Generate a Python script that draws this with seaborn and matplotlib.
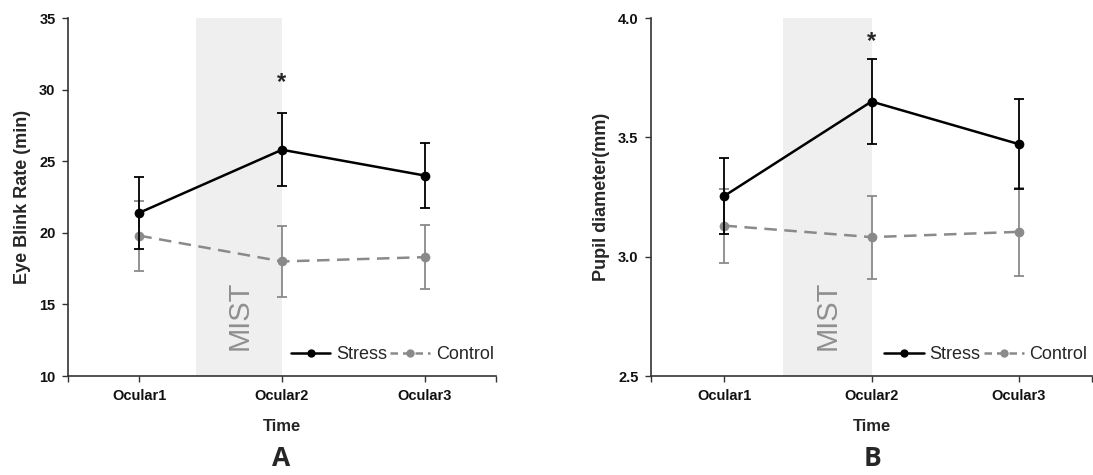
import matplotlib
matplotlib.use("Agg")
import matplotlib.pyplot as plt
import matplotlib.ticker as mticker
import seaborn as sns
import pandas as pd
from matplotlib.lines import Line2D

# --- data ---
times = ["Ocular1", "Ocular2", "Ocular3"]

blink_stress = [21.4, 25.8, 24.0]
blink_stress_err = [2.5, 2.55, 2.3]
blink_control = [19.8, 18.0, 18.3]
blink_control_err = [2.45, 2.5, 2.25]

pupil_stress = [3.255, 3.65, 3.472]
pupil_stress_err = [0.158, 0.177, 0.19]
pupil_control = [3.13, 3.082, 3.104]
pupil_control_err = [0.155, 0.174, 0.185]

sns.set_style("ticks")
plt.rcParams["font.family"] = ["Liberation Sans", "DejaVu Sans"]

BLACK = "#000000"
GREY = "#8a8a8a"
SHADE = "#efefef"
AXIS = "#333333"


def draw_panel(ax, stress, stress_err, control, control_err, ylim, yticks,
               ylabel, star_y, leg_x, yfmt=None):
    df = pd.DataFrame({
        "Time": times * 2,
        "value": list(stress) + list(control),
        "group": ["Stress"] * 3 + ["Control"] * 3,
    })
    ax.axvspan(0.4, 1.0, color=SHADE, zorder=0, lw=0)
    sns.lineplot(data=df, x="Time", y="value", hue="group", style="group",
                 palette={"Stress": BLACK, "Control": GREY},
                 dashes={"Stress": "", "Control": (5, 3)},
                 markers={"Stress": "o", "Control": "o"},
                 markersize=7, markeredgewidth=0, linewidth=1.8,
                 legend=False, ax=ax, zorder=3)
    ax.errorbar(times, control, yerr=control_err, fmt="none", ecolor=GREY,
                elinewidth=1.3, capsize=3.5, capthick=1.3, zorder=2)
    ax.errorbar(times, stress, yerr=stress_err, fmt="none", ecolor=BLACK,
                elinewidth=1.3, capsize=3.5, capthick=1.3, zorder=4)

    ax.set_xlim(-0.5, 2.5)
    ax.set_ylim(*ylim)
    ax.set_yticks(yticks)
    if yfmt:
        ax.yaxis.set_major_formatter(mticker.FormatStrFormatter(yfmt))
    ax.set_xticks([-0.5, 2.5], minor=True)
    ax.tick_params(which="both", direction="out", length=4.5, width=1,
                   color=AXIS, pad=4.5, labelsize=10.5, labelcolor="#111111")
    for lab in ax.get_xticklabels() + ax.get_yticklabels():
        lab.set_fontweight("bold")
    ax.set_xlabel("Time", fontsize=12, fontweight="bold", labelpad=12)
    ax.set_ylabel(ylabel, fontsize=13, fontweight="bold", labelpad=6)
    sns.despine(ax=ax)
    for s in ["left", "bottom"]:
        ax.spines[s].set_color(AXIS)
        ax.spines[s].set_linewidth(1.2)

    ax.text(0.4, 0.17, "MIST", transform=ax.transAxes, rotation=90,
            ha="center", va="center", fontsize=21, color="#8f8f8f")
    ax.text(1.0, star_y, "*", transform=ax.get_xaxis_transform(),
            ha="center", va="center", fontsize=17, fontweight="bold")

    handles = [
        Line2D([], [], color=BLACK, lw=1.8, marker="o", markersize=6,
               markeredgewidth=0),
        Line2D([], [], color=GREY, lw=1.8, ls=(0, (3, 2)), marker="o",
               markersize=6, markeredgewidth=0),
    ]
    ax.legend(handles, ["Stress", "Control"], ncol=2, frameon=False,
              loc="lower right", bbox_to_anchor=(leg_x, 0.0), fontsize=13,
              handlelength=2.2, handletextpad=0.3, columnspacing=0.2,
              borderaxespad=0.3)


fig = plt.figure(figsize=(10.93, 4.75), dpi=100)
ax1 = fig.add_axes([0.0622, 0.2084, 0.3916, 0.7537])
ax2 = fig.add_axes([0.5956, 0.2084, 0.4035, 0.7537])

draw_panel(ax1, blink_stress, blink_stress_err, blink_control,
           blink_control_err, (10, 35), [10, 15, 20, 25, 30, 35],
           "Eye Blink Rate (min)", 0.82, 1.024)
draw_panel(ax2, pupil_stress, pupil_stress_err, pupil_control,
           pupil_control_err, (2.5, 4.0), [2.5, 3.0, 3.5, 4.0],
           "Pupil diameter(mm)", 0.935, 1.018, yfmt="%.1f")

fig.text(0.257, 0.018, "A", fontsize=19, fontweight="bold", ha="center",
         family=["Open Sans", "DejaVu Sans"])
fig.text(0.798, 0.018, "B", fontsize=19, fontweight="bold", ha="center",
         family=["Open Sans", "DejaVu Sans"])

fig.savefig("out.png", dpi=100)
